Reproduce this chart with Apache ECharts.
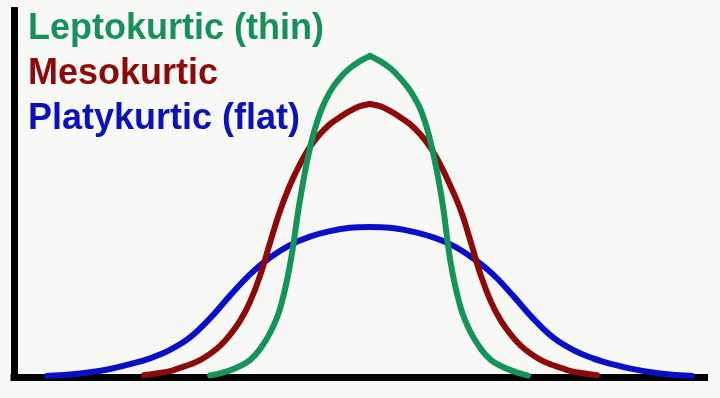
<!DOCTYPE html>
<html>
<head>
<meta charset="utf-8">
<script src="https://cdn.jsdelivr.net/npm/echarts@6/dist/echarts.min.js"></script>
<style>
  html, body { margin: 0; padding: 0; background: #f8f8f7; }
  #chart { width: 720px; height: 398px; }
</style>
</head>
<body>
<div id="chart"></div>
<script>
// Series labels
const labels = ['Leptokurtic (thin)', 'Mesokurtic', 'Platykurtic (flat)'];

// Leptokurtic (thin) curve
const leptoX = [-1.60,-1.50,-1.40,-1.30,-1.20,-1.10,-1.00,-0.90,-0.80,-0.70,-0.60,-0.50,-0.40,-0.30,-0.20,-0.10,
  0,
  0.10,0.20,0.30,0.41,0.52,0.62,0.72,0.81,0.91,1.01,1.11,1.21,1.31,1.41,1.50,1.58];
const leptoY = [0.004,0.010,0.018,0.030,0.046,0.076,0.120,0.186,0.306,0.483,0.625,0.720,0.778,0.816,0.843,0.862,
  0.876,
  0.862,0.843,0.816,0.778,0.720,0.625,0.483,0.306,0.186,0.120,0.076,0.046,0.030,0.018,0.010,0.004];

// Mesokurtic curve
const mesoX = [-2.26,-2.20,-2.10,-2.00,-1.90,-1.80,-1.70,-1.60,-1.50,-1.40,-1.30,-1.20,-1.10,-1.00,-0.90,-0.80,-0.70,-0.60,-0.50,-0.40,-0.30,-0.20,-0.10,
  0,
  0.10,0.20,0.30,0.40,0.50,0.60,0.70,0.80,0.91,1.01,1.11,1.21,1.31,1.41,1.51,1.61,1.71,1.81,1.91,2.01,2.11,2.21,2.27];
const mesoY = [0.005,0.007,0.011,0.016,0.025,0.034,0.046,0.063,0.085,0.115,0.153,0.205,0.276,0.366,0.453,0.524,0.581,0.628,0.663,0.690,0.709,0.726,0.739,
  0.745,
  0.739,0.726,0.709,0.690,0.663,0.628,0.581,0.524,0.453,0.366,0.276,0.205,0.153,0.115,0.085,0.063,0.046,0.034,0.025,0.016,0.011,0.007,0.005];

// Platykurtic (flat) curve
const platyX = [-3.23,-3.00,-2.80,-2.60,-2.40,-2.20,-2.00,-1.80,-1.60,-1.40,-1.20,-1.00,-0.80,-0.60,-0.40,-0.20,
  0,
  0.20,0.40,0.61,0.82,1.02,1.23,1.43,1.63,1.83,2.03,2.23,2.42,2.62,2.81,3.00,3.22];
const platyY = [0.003,0.007,0.013,0.022,0.035,0.051,0.074,0.108,0.160,0.222,0.280,0.326,0.360,0.383,0.398,0.407,
  0.409,
  0.407,0.398,0.383,0.360,0.326,0.280,0.222,0.160,0.108,0.074,0.051,0.035,0.022,0.013,0.007,0.003];

const colors = ['#15945a', '#8c0a08', '#0a10c8'];
const textColors = ['#17915a', '#8a0c0a', '#0c12b8'];

function pairs(xs, ys) { return xs.map((x, i) => [x, ys[i]]); }

const chart = echarts.init(document.getElementById('chart'), null, { renderer: 'canvas' });

// curves: [data, colour index, split at peak for a pointed top]
const curves = [
  [pairs(platyX, platyY), 2, false],
  [pairs(mesoX, mesoY), 1, true],
  [pairs(leptoX, leptoY), 0, true]
];

const series = [];
curves.forEach(([data, k, split], j) => {
  const base = {
    name: labels[k], type: 'line', smooth: 0.4, showSymbol: false, symbol: 'none',
    lineStyle: { color: colors[k], width: 6, cap: 'round', join: 'round' },
    z: 3 + j
  };
  if (split) {
    let p = 0;
    data.forEach((d, i) => { if (d[1] > data[p][1]) p = i; });
    series.push(Object.assign({}, base, { data: data.slice(0, p + 1) }));
    series.push(Object.assign({}, base, { data: data.slice(p) }));
  } else {
    series.push(Object.assign({}, base, { data: data }));
  }
});

chart.setOption({
  backgroundColor: '#f8f8f7',
  animation: false,
  grid: { left: 14, right: 15.5, top: 10.5, bottom: 21 },
  xAxis: {
    type: 'value', min: -3.56, max: 3.345,
    axisLine: { show: true, onZero: false, lineStyle: { color: '#000', width: 7, cap: 'square' } },
    axisTick: { show: false }, axisLabel: { show: false }, splitLine: { show: false }
  },
  yAxis: {
    type: 'value', min: 0, max: 1,
    axisLine: { show: true, onZero: false, lineStyle: { color: '#000', width: 7, cap: 'square' } },
    axisTick: { show: false }, axisLabel: { show: false }, splitLine: { show: false }
  },
  graphic: labels.map((t, i) => ({
    type: 'text', left: 28, top: 11 + i * 45,
    style: {
      text: t, fill: textColors[i],
      font: 'bold 36px "Liberation Sans", Arial, sans-serif'
    }
  })),
  series: series
});
</script>
</body>
</html>
